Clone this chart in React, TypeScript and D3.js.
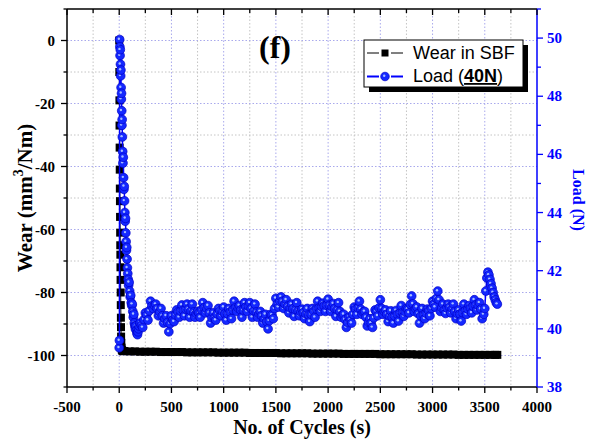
import React from 'react';
import * as d3 from 'd3';

// ---------- data ----------
const X_TICKS = [-500, 0, 500, 1000, 1500, 2000, 2500, 3000, 3500, 4000];
const WEAR_TICKS = [-100, -80, -60, -40, -20, 0];
const LOAD_TICKS = [38, 40, 42, 44, 46, 48, 50];

const wearCycles = [
  0, 1, 2, 3, 4, 5, 6, 7, 8, 9, 10, 11, 12, 13, 14, 15, 16, 17, 18, 20, 22, 25, 30, 35, 40,
  50, 100, 150, 200, 250, 300, 350, 400, 450, 500, 550, 600, 650, 700, 750, 800, 850, 900, 950,
  1000, 1050, 1100, 1150, 1200, 1250, 1300, 1350, 1400, 1450, 1500, 1550, 1600, 1650, 1700, 1750,
  1800, 1850, 1900, 1950, 2000, 2050, 2100, 2150, 2200, 2250, 2300, 2350, 2400, 2450, 2500, 2550,
  2600, 2650, 2700, 2750, 2800, 2850, 2900, 2950, 3000, 3050, 3100, 3150, 3200, 3250, 3300, 3350,
  3400, 3450, 3500, 3550, 3600, 3620,
];
const wearValues = [
  0, -10, -19, -27, -34, -41, -47, -51, -56, -61, -65, -68, -72, -76, -80, -84, -88, -91, -94, -96, -97.5, -98.2, -98.5, -98.6, -98.6,
  -98.6, -98.7, -98.7, -98.8, -98.8, -98.8, -98.8, -98.9, -98.9, -98.9, -98.9, -98.9, -99.0, -99.0, -99.0, -99.0, -99.0, -99.0, -99.1,
  -99.1, -99.1, -99.1, -99.1, -99.1, -99.2, -99.2, -99.2, -99.2, -99.2, -99.2, -99.3, -99.3, -99.3, -99.3, -99.3,
  -99.3, -99.4, -99.4, -99.4, -99.4, -99.4, -99.4, -99.5, -99.5, -99.5, -99.5, -99.5, -99.5, -99.5, -99.6, -99.6,
  -99.6, -99.6, -99.6, -99.6, -99.6, -99.7, -99.7, -99.7, -99.7, -99.7, -99.7, -99.7, -99.7, -99.8, -99.8, -99.8,
  -99.8, -99.8, -99.8, -99.8, -99.8, -99.8,
];

// initial decay of the load
const loadStartCycles = [
  0, 2, 4, 6, 8, 10, 12, 14, 16, 18, 20, 22, 24, 26, 28, 30, 33, 36, 39, 42,
  45, 48, 51, 54, 57, 60, 63, 66, 69, 72, 75, 78, 82, 86, 90, 95, 100, 105, 110, 115,
  120, 125, 130, 135, 140, 145, 150, 155, 160, 165, 170, 175, 180, 185, 190,
];
const loadStartValues = [
  39.35, 39.6, 49.95, 49.7, 49.4, 49.6, 49.1, 48.7, 48.9, 48.3, 47.9, 48.1, 47.5, 47.0, 47.2, 46.6, 46.1, 45.7, 45.9, 45.2,
  44.8, 44.9, 44.4, 44.0, 43.7, 43.8, 43.3, 43.0, 42.7, 42.8, 42.4, 42.1, 41.9, 41.7, 41.5, 41.6, 41.3, 41.1, 41.15, 40.9,
  40.8, 40.85, 40.6, 40.4, 40.5, 40.2, 40.1, 40.0, 40.1, 39.95, 39.85, 39.8, 39.9, 40.0, 40.1,
];

// steady part, every 12.5 cycles (pairs: reading, in-between reading)
const loadSteadyCycles = [
  200, 212.5, 225, 237.5, 250, 262.5, 275, 287.5, 300, 312.5, 325, 337.5, 350, 362.5, 375, 387.5,
  400, 412.5, 425, 437.5, 450, 462.5, 475, 487.5, 500, 512.5, 525, 537.5, 550, 562.5, 575, 587.5,
  600, 612.5, 625, 637.5, 650, 662.5, 675, 687.5, 700, 712.5, 725, 737.5, 750, 762.5, 775, 787.5,
  800, 812.5, 825, 837.5, 850, 862.5, 875, 887.5, 900, 912.5, 925, 937.5, 950, 962.5, 975, 987.5,
  1000, 1012.5, 1025, 1037.5, 1050, 1062.5, 1075, 1087.5, 1100, 1112.5, 1125, 1137.5, 1150, 1162.5, 1175, 1187.5,
  1200, 1212.5, 1225, 1237.5, 1250, 1262.5, 1275, 1287.5, 1300, 1312.5, 1325, 1337.5, 1350, 1362.5, 1375, 1387.5,
  1400, 1412.5, 1425, 1437.5, 1450, 1462.5, 1475, 1487.5, 1500, 1512.5, 1525, 1537.5, 1550, 1562.5, 1575, 1587.5,
  1600, 1612.5, 1625, 1637.5, 1650, 1662.5, 1675, 1687.5, 1700, 1712.5, 1725, 1737.5, 1750, 1762.5, 1775, 1787.5,
  1800, 1812.5, 1825, 1837.5, 1850, 1862.5, 1875, 1887.5, 1900, 1912.5, 1925, 1937.5, 1950, 1962.5, 1975, 1987.5,
  2000, 2012.5, 2025, 2037.5, 2050, 2062.5, 2075, 2087.5, 2100, 2112.5, 2125, 2137.5, 2150, 2162.5, 2175, 2187.5,
  2200, 2212.5, 2225, 2237.5, 2250, 2262.5, 2275, 2287.5, 2300, 2312.5, 2325, 2337.5, 2350, 2362.5, 2375, 2387.5,
  2400, 2412.5, 2425, 2437.5, 2450, 2462.5, 2475, 2487.5, 2500, 2512.5, 2525, 2537.5, 2550, 2562.5, 2575, 2587.5,
  2600, 2612.5, 2625, 2637.5, 2650, 2662.5, 2675, 2687.5, 2700, 2712.5, 2725, 2737.5, 2750, 2762.5, 2775, 2787.5,
  2800, 2812.5, 2825, 2837.5, 2850, 2862.5, 2875, 2887.5, 2900, 2912.5, 2925, 2937.5, 2950, 2962.5, 2975, 2987.5,
  3000, 3012.5, 3025, 3037.5, 3050, 3062.5, 3075, 3087.5, 3100, 3112.5, 3125, 3137.5, 3150, 3162.5, 3175, 3187.5,
  3200, 3212.5, 3225, 3237.5, 3250, 3262.5, 3275, 3287.5, 3300, 3312.5, 3325, 3337.5, 3350, 3362.5, 3375, 3387.5,
  3400, 3412.5, 3425, 3437.5, 3450, 3462.5, 3475,
];
const loadSteadyValues = [
  40.2, 40.12, 40.05, 40.32, 40.55, 40.48, 40.3, 40.62, 40.95, 40.78, 40.7, 40.8, 40.85, 40.7, 40.45, 40.58,
  40.7, 40.45, 40.2, 40.35, 40.45, 40.22, 39.9, 40.18, 40.45, 40.3, 40.25, 40.48, 40.65, 40.58, 40.4, 40.61,
  40.82, 40.64, 40.45, 40.68, 40.85, 40.68, 40.4, 40.62, 40.85, 40.58, 40.4, 40.52, 40.6, 40.55, 40.4, 40.65,
  40.9, 40.72, 40.55, 40.7, 40.8, 40.55, 40.2, 40.38, 40.55, 40.38, 40.3, 40.52, 40.7, 40.62, 40.45, 40.6,
  40.75, 40.52, 40.3, 40.52, 40.7, 40.58, 40.35, 40.65, 40.95, 40.72, 40.6, 40.72, 40.8, 40.65, 40.4, 40.65,
  40.9, 40.75, 40.6, 40.78, 40.9, 40.7, 40.4, 40.62, 40.85, 40.58, 40.4, 40.52, 40.6, 40.45, 40.2, 40.35,
  40.5, 40.25, 40.0, 40.28, 40.5, 40.48, 40.35, 40.7, 41.05, 40.85, 40.75, 40.95, 41.1, 40.95, 40.7, 40.85,
  41.0, 40.78, 40.55, 40.72, 40.85, 40.69, 40.43, 40.66, 40.9, 40.62, 40.45, 40.59, 40.68, 40.56, 40.35, 40.52,
  40.7, 40.48, 40.25, 40.5, 40.7, 40.6, 40.4, 40.68, 40.95, 40.72, 40.6, 40.76, 40.88, 40.79, 40.6, 40.81,
  41.02, 40.81, 40.6, 40.76, 40.87, 40.7, 40.43, 40.66, 40.9, 40.6, 40.4, 40.48, 40.5, 40.32, 40.05, 40.22,
  40.4, 40.3, 40.2, 40.5, 40.75, 40.68, 40.5, 40.72, 40.95, 40.68, 40.5, 40.58, 40.6, 40.4, 40.1, 40.22,
  40.35, 40.2, 40.05, 40.38, 40.65, 40.6, 40.45, 40.72, 41.0, 40.7, 40.5, 40.6, 40.65, 40.5, 40.25, 40.44,
  40.62, 40.41, 40.2, 40.44, 40.63, 40.5, 40.27, 40.54, 40.8, 40.56, 40.43, 40.59, 40.7, 40.68, 40.55, 40.84,
  41.13, 40.86, 40.6, 40.7, 40.75, 40.52, 40.2, 40.45, 40.7, 40.48, 40.35, 40.54, 40.68, 40.62, 40.45, 40.7,
  40.95, 40.85, 40.75, 41.05, 41.3, 41.0, 40.6, 40.72, 40.85, 40.64, 40.53, 40.72, 40.85, 40.75, 40.55, 40.7,
  40.85, 40.6, 40.35, 40.52, 40.65, 40.51, 40.27, 40.56, 40.85, 40.62, 40.5, 40.68, 40.8, 40.72, 40.55, 40.78,
  41.0, 40.82, 40.65, 40.8, 40.9, 40.68, 40.35,
];

// late spike near the end of the test
const loadEndCycles = [3490, 3500, 3510, 3520, 3530, 3540, 3550, 3560, 3570, 3580, 3590, 3600, 3610, 3620];
const loadEndValues = [40.5, 40.7, 41.3, 41.75, 41.95, 41.85, 41.7, 41.55, 41.4, 41.25, 41.1, 41.0, 40.9, 40.85];

// ---------- layout ----------
const W = 595;
const H = 444;
const L = 67, R = 537, T = 9, B = 387;
const SERIF = '"Liberation Serif", "Times New Roman", serif';
const SANS = '"Liberation Sans", Arial, sans-serif';
const BLUE = '#0000ff';

export default function App() {
  const x = d3.scaleLinear().domain([-500, 4000]).range([L, R]);
  const yL = d3.scaleLinear().domain([-110, 10]).range([B, T]);
  const yR = d3.scaleLinear().domain([38, 51]).range([B, T]);

  const xGrid = d3.range(-250, 4000, 250);
  const yGrid = d3.range(-100, 10, 10);
  const xMinor = d3.range(-500, 4001, 250);
  const yMinor = d3.range(-110, 11, 10);
  const rMinor = d3.range(38, 51.01, 1);

  const wearPts = wearCycles.map((c, i) => [c, wearValues[i]] as [number, number]);
  const loadCycles = [...loadStartCycles, ...loadSteadyCycles, ...loadEndCycles];
  const loadValues = [...loadStartValues, ...loadSteadyValues, ...loadEndValues];
  const loadPts = loadCycles.map((c, i) => [c, loadValues[i]] as [number, number]);

  const wearLine = d3.line<[number, number]>().x(d => x(d[0])).y(d => yL(d[1]))(wearPts) || '';
  const loadLine = d3.line<[number, number]>().x(d => x(d[0])).y(d => yR(d[1]))(loadPts) || '';

  const sq = 8;

  return (
    <div style={{ position: 'absolute', left: 0, top: 0 }}>
      <svg width={W} height={H} style={{ display: 'block', background: '#fff' }}>
        <rect x={0} y={0} width={W} height={H} fill="#fff" />
        {/* grid */}
        {xGrid.map(v => (
          <line key={'gx' + v} x1={x(v)} x2={x(v)} y1={T} y2={B}
            stroke={v % 500 === 0 ? '#a9a9ec' : '#c4c4c4'} strokeWidth={1} strokeDasharray="1.5,2" />
        ))}
        {yGrid.map(v => (
          <line key={'gy' + v} x1={L} x2={R} y1={yL(v)} y2={yL(v)}
            stroke={v % 20 === 0 ? '#a9a9ec' : '#c4c4c4'} strokeWidth={1} strokeDasharray="1.5,2" />
        ))}

        {/* wear series */}
        <path d={wearLine} fill="none" stroke="#000" strokeWidth={1} />
        {wearPts.map((d, i) => (
          <rect key={'w' + i} x={x(d[0]) - sq / 2} y={yL(d[1]) - sq / 2} width={sq} height={sq} fill="#000" />
        ))}

        {/* load series */}
        <path d={loadLine} fill="none" stroke={BLUE} strokeWidth={1.5} />
        {loadPts.map((d, i) => (
          <g key={'l' + i}>
            <circle cx={x(d[0])} cy={yR(d[1])} r={4.4} fill="#1428ff" stroke="#0000c8" strokeWidth={0.7} />
            <circle cx={x(d[0]) - 0.8} cy={yR(d[1]) - 0.8} r={1.2} fill="#a6bcff" />
          </g>
        ))}

        {/* axes frame */}
        <line x1={L} x2={R} y1={T} y2={T} stroke="#000" strokeWidth={1.5} />
        <line x1={L} x2={R} y1={B} y2={B} stroke="#000" strokeWidth={1.5} />
        <line x1={L} x2={L} y1={T} y2={B} stroke="#000" strokeWidth={1.5} />
        <line x1={R} x2={R} y1={T} y2={B} stroke={BLUE} strokeWidth={1.5} />

        {/* bottom ticks (outward) and top ticks (inward) */}
        {xMinor.map(v => {
          const major = v % 500 === 0;
          return (
            <g key={'xt' + v}>
              <line x1={x(v)} x2={x(v)} y1={B} y2={B + (major ? 6 : 3.5)} stroke="#000" strokeWidth={1.3} />
              <line x1={x(v)} x2={x(v)} y1={T} y2={T + (major ? 6 : 4)} stroke="#000" strokeWidth={1.3} />
            </g>
          );
        })}
        {X_TICKS.map(v => (
          <text key={'xl' + v} x={x(v)} y={412} textAnchor="middle" fontFamily={SERIF}
            fontWeight="bold" fontSize={15} fill="#000">{v}</text>
        ))}

        {/* left ticks */}
        {yMinor.map(v => {
          const major = v % 20 === 0;
          return (
            <line key={'yt' + v} x1={L} x2={L - (major ? 6 : 3.5)} y1={yL(v)} y2={yL(v)} stroke="#000" strokeWidth={1.3} />
          );
        })}
        {WEAR_TICKS.map(v => (
          <text key={'yl' + v} x={55} y={yL(v) + 5} textAnchor="end" fontFamily={SERIF}
            fontWeight="bold" fontSize={15} fill="#000">{v}</text>
        ))}

        {/* right ticks */}
        {rMinor.map(v => {
          const major = Math.round(v) % 2 === 0;
          return (
            <line key={'rt' + v} x1={R} x2={R + (major ? 6 : 4)} y1={yR(v)} y2={yR(v)} stroke={BLUE} strokeWidth={1.3} />
          );
        })}
        {LOAD_TICKS.map(v => (
          <text key={'rl' + v} x={547} y={yR(v) + 5} textAnchor="start" fontFamily={SERIF}
            fontWeight="bold" fontSize={15} fill={BLUE}>{v}</text>
        ))}

        {/* axis titles */}
        <text x={(L + R) / 2} y={434} textAnchor="middle" fontFamily={SERIF} fontWeight="bold" fontSize={20} fill="#000">
          No. of Cycles (s)
        </text>
        <text transform={`translate(32,${(T + B) / 2}) rotate(-90)`} textAnchor="middle" fontFamily={SERIF}
          fontWeight="bold" fontSize={21} fill="#000">
          <tspan>Wear (mm</tspan>
          <tspan fontSize={14} dy={-9}>3</tspan>
          <tspan dy={9}>/Nm)</tspan>
        </text>
        <text transform={`translate(573,${(T + B) / 2 + 2}) rotate(90)`} textAnchor="middle" fontFamily={SERIF}
          fontWeight="bold" fontSize={16} fill={BLUE}>
          Load (N)
        </text>

        {/* panel label */}
        <text x={275} y={58} textAnchor="middle" fontFamily={SERIF} fontWeight="bold" fontSize={32} fill="#000">(f)</text>

        {/* legend */}
        <rect x={369} y={45} width={159} height={47} fill="#000" />
        <rect x={364} y={40} width={159} height={47} fill="#fff" stroke="#000" strokeWidth={1} />
        <line x1={367} x2={379} y1={53} y2={53} stroke="#000" strokeWidth={1} />
        <line x1={391} x2={403} y1={53} y2={53} stroke="#000" strokeWidth={1} />
        <rect x={385 - 3.5} y={53 - 3.5} width={7} height={7} fill="#000" />
        <text x={413} y={59} fontFamily={SANS} fontSize={18} fill="#000">Wear in SBF</text>
        <line x1={367} x2={379} y1={76.5} y2={76.5} stroke={BLUE} strokeWidth={2} />
        <line x1={391} x2={403} y1={76.5} y2={76.5} stroke={BLUE} strokeWidth={2} />
        <circle cx={385} cy={76.5} r={4.3} fill="#1428ff" stroke="#0000c8" strokeWidth={0.7} />
        <circle cx={384.2} cy={75.7} r={1.2} fill="#a6bcff" />
        <text x={413} y={82} fontFamily={SANS} fontSize={18} fill="#000">
          <tspan>Load (</tspan>
          <tspan fontWeight="bold" textDecoration="underline">40N</tspan>
          <tspan>)</tspan>
        </text>
      </svg>
    </div>
  );
}
